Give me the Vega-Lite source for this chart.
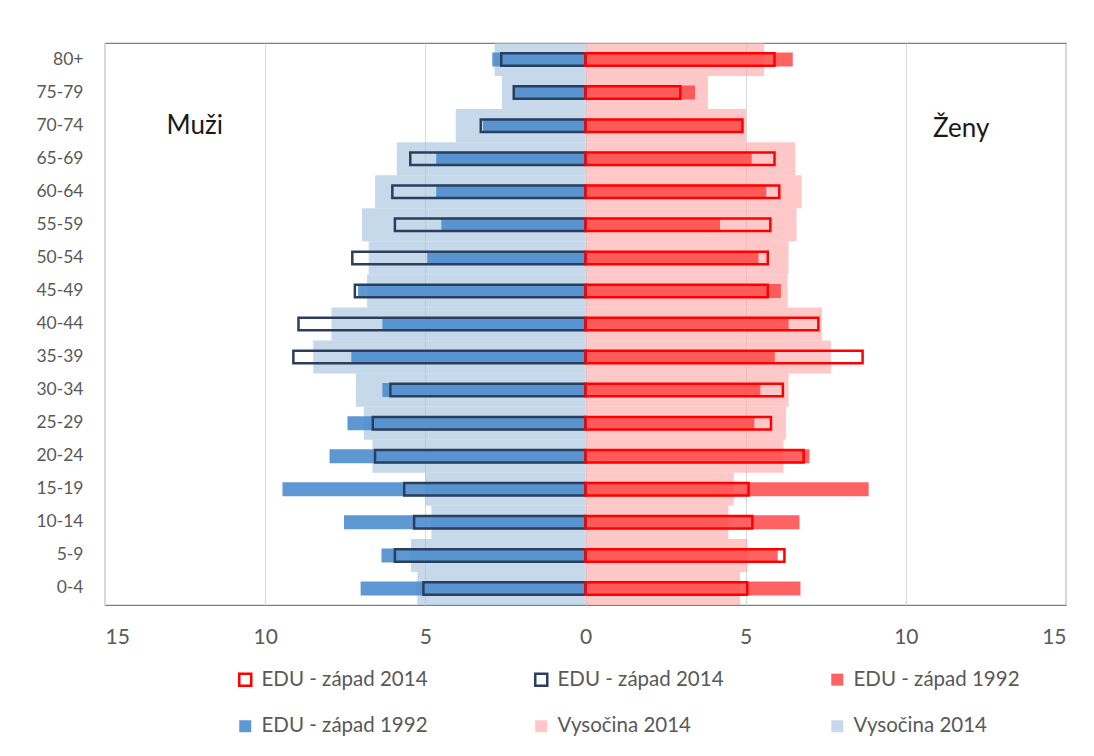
{
  "$schema": "https://vega.github.io/schema/vega-lite/v6.json",
  "autosize": {"type": "none"},
  "width": 961,
  "height": 562,
  "padding": {"left": 105, "top": 43, "right": 28, "bottom": 151},
  "background": "white",
  "config": {
    "font": "Lato",
    "view": {"stroke": "#7f7f7f", "strokeWidth": 1.2},
    "axis": {"labelColor": "#595959", "domain": false, "ticks": false, "tickSize": 0, "title": null}
  },
  "data": {
    "values": [
      {"age": "80+", "MVys": -2.84, "M1992": -2.91, "M2014": -2.63, "FVys": 5.58, "F1992": 6.47, "F2014": 5.9},
      {"age": "75-79", "MVys": -2.61, "M1992": -2.25, "M2014": -2.24, "FVys": 3.82, "F1992": 3.42, "F2014": 2.96},
      {"age": "70-74", "MVys": -4.05, "M1992": -3.2, "M2014": -3.27, "FVys": 5.01, "F1992": 4.88, "F2014": 4.9},
      {"age": "65-69", "MVys": -5.89, "M1992": -4.66, "M2014": -5.47, "FVys": 6.55, "F1992": 5.19, "F2014": 5.9},
      {"age": "60-64", "MVys": -6.57, "M1992": -4.66, "M2014": -6.03, "FVys": 6.75, "F1992": 5.64, "F2014": 6.05},
      {"age": "55-59", "MVys": -6.98, "M1992": -4.5, "M2014": -5.95, "FVys": 6.59, "F1992": 4.2, "F2014": 5.77},
      {"age": "50-54", "MVys": -6.77, "M1992": -4.94, "M2014": -7.28, "FVys": 6.34, "F1992": 5.4, "F2014": 5.69},
      {"age": "45-49", "MVys": -6.82, "M1992": -7.1, "M2014": -7.2, "FVys": 6.31, "F1992": 6.1, "F2014": 5.69},
      {"age": "40-44", "MVys": -7.93, "M1992": -6.34, "M2014": -8.96, "FVys": 7.38, "F1992": 6.34, "F2014": 7.27},
      {"age": "35-39", "MVys": -8.5, "M1992": -7.31, "M2014": -9.12, "FVys": 7.66, "F1992": 5.91, "F2014": 8.65},
      {"age": "30-34", "MVys": -7.17, "M1992": -6.34, "M2014": -6.09, "FVys": 6.34, "F1992": 5.46, "F2014": 6.16},
      {"age": "25-29", "MVys": -6.92, "M1992": -7.43, "M2014": -6.64, "FVys": 6.26, "F1992": 5.27, "F2014": 5.79},
      {"age": "20-24", "MVys": -6.65, "M1992": -7.99, "M2014": -6.57, "FVys": 6.18, "F1992": 6.99, "F2014": 6.81},
      {"age": "15-19", "MVys": -5.0, "M1992": -9.46, "M2014": -5.66, "FVys": 4.63, "F1992": 8.84, "F2014": 5.09},
      {"age": "10-14", "MVys": -4.81, "M1992": -7.54, "M2014": -5.35, "FVys": 4.46, "F1992": 6.68, "F2014": 5.21},
      {"age": "5-9", "MVys": -5.45, "M1992": -6.37, "M2014": -5.95, "FVys": 5.06, "F1992": 6.0, "F2014": 6.21},
      {"age": "0-4", "MVys": -5.25, "M1992": -7.02, "M2014": -5.06, "FVys": 4.83, "F1992": 6.71, "F2014": 5.05}
    ]
  },
  "transform": [
    {"fold": ["MVys", "FVys", "M1992", "F1992", "M2014", "F2014"], "as": ["series", "value"]}
  ],
  "layer": [
    {
      "encoding": {
        "y": {
          "field": "age", "type": "nominal",
          "sort": ["80+", "75-79", "70-74", "65-69", "60-64", "55-59", "50-54", "45-49", "40-44", "35-39", "30-34", "25-29", "20-24", "15-19", "10-14", "5-9", "0-4"],
          "scale": {"paddingInner": 0, "paddingOuter": 0},
          "axis": {"labelPadding": 22, "grid": false, "labelFontSize": 17.5}
        },
        "x": {
          "field": "value", "type": "quantitative",
          "scale": {"domain": [-15, 15], "nice": false, "zero": false},
          "axis": {"values": [-15, -10, -5, 0, 5, 10, 15], "labelExpr": "abs(datum.value)", "grid": true, "gridColor": "#d9d9d9", "labelPadding": 21, "labelFontSize": 21}
        },
        "fill": {
          "field": "series", "type": "nominal",
          "scale": {
            "domain": ["F2014", "M2014", "F1992", "M1992", "FVys", "MVys"],
            "range": ["transparent", "transparent", "rgba(255,70,70,0.85)", "rgba(75,141,205,0.9)", "rgba(255,170,170,0.65)", "rgba(160,192,222,0.6)"]
          },
          "legend": {
            "title": null, "orient": "none", "legendX": 130, "legendY": 626, "direction": "horizontal", "columns": 3,
            "columnPadding": 102, "rowPadding": 24, "padding": 0, "symbolType": "square", "symbolSize": 144, "symbolStrokeWidth": 2.5,
            "labelFontSize": 20.5, "labelColor": "#595959", "labelOffset": 6, "labelLimit": 400,
            "labelExpr": "(datum.label == 'F2014' || datum.label == 'M2014') ? 'EDU - západ 2014' : ((datum.label == 'F1992' || datum.label == 'M1992') ? 'EDU - západ 1992' : 'Vysočina 2014')"
          }
        },
        "stroke": {
          "field": "series", "type": "nominal",
          "scale": {
            "domain": ["F2014", "M2014", "F1992", "M1992", "FVys", "MVys"],
            "range": ["#ff0000", "#2b3f5c", "transparent", "transparent", "transparent", "transparent"]
          },
          "legend": {
            "title": null, "orient": "none", "legendX": 130, "legendY": 626, "direction": "horizontal", "columns": 3,
            "columnPadding": 102, "rowPadding": 24, "padding": 0, "symbolType": "square", "symbolSize": 144, "symbolStrokeWidth": 2.5,
            "labelFontSize": 20.5, "labelColor": "#595959", "labelOffset": 6, "labelLimit": 400,
            "labelExpr": "(datum.label == 'F2014' || datum.label == 'M2014') ? 'EDU - západ 2014' : ((datum.label == 'F1992' || datum.label == 'M1992') ? 'EDU - západ 1992' : 'Vysočina 2014')"
          }
        }
      },
      "layer": [
        {
          "transform": [{"filter": {"field": "series", "oneOf": ["MVys", "FVys"]}}],
          "mark": {"type": "bar", "strokeWidth": 0}
        },
        {
          "transform": [{"filter": {"field": "series", "oneOf": ["M1992", "F1992"]}}],
          "mark": {"type": "bar", "size": 14, "strokeWidth": 0}
        },
        {
          "transform": [{"filter": {"field": "series", "oneOf": ["M2014", "F2014"]}}],
          "mark": {"type": "bar", "size": 12.5, "strokeWidth": 2.5}
        }
      ]
    },
    {
      "data": {"values": [{}]},
      "mark": {"type": "text", "fontSize": 26, "color": "#1a1a1a", "baseline": "middle", "align": "center"},
      "encoding": {
        "x": {"datum": -12.2, "type": "quantitative"},
        "y": {"datum": "70-74", "type": "nominal"},
        "text": {"value": "Muži"}
      }
    },
    {
      "data": {"values": [{}]},
      "mark": {"type": "text", "fontSize": 26, "color": "#1a1a1a", "baseline": "middle", "align": "center", "dy": 3},
      "encoding": {
        "x": {"datum": 11.73, "type": "quantitative"},
        "y": {"datum": "70-74", "type": "nominal"},
        "text": {"value": "Ženy"}
      }
    }
  ]
}
